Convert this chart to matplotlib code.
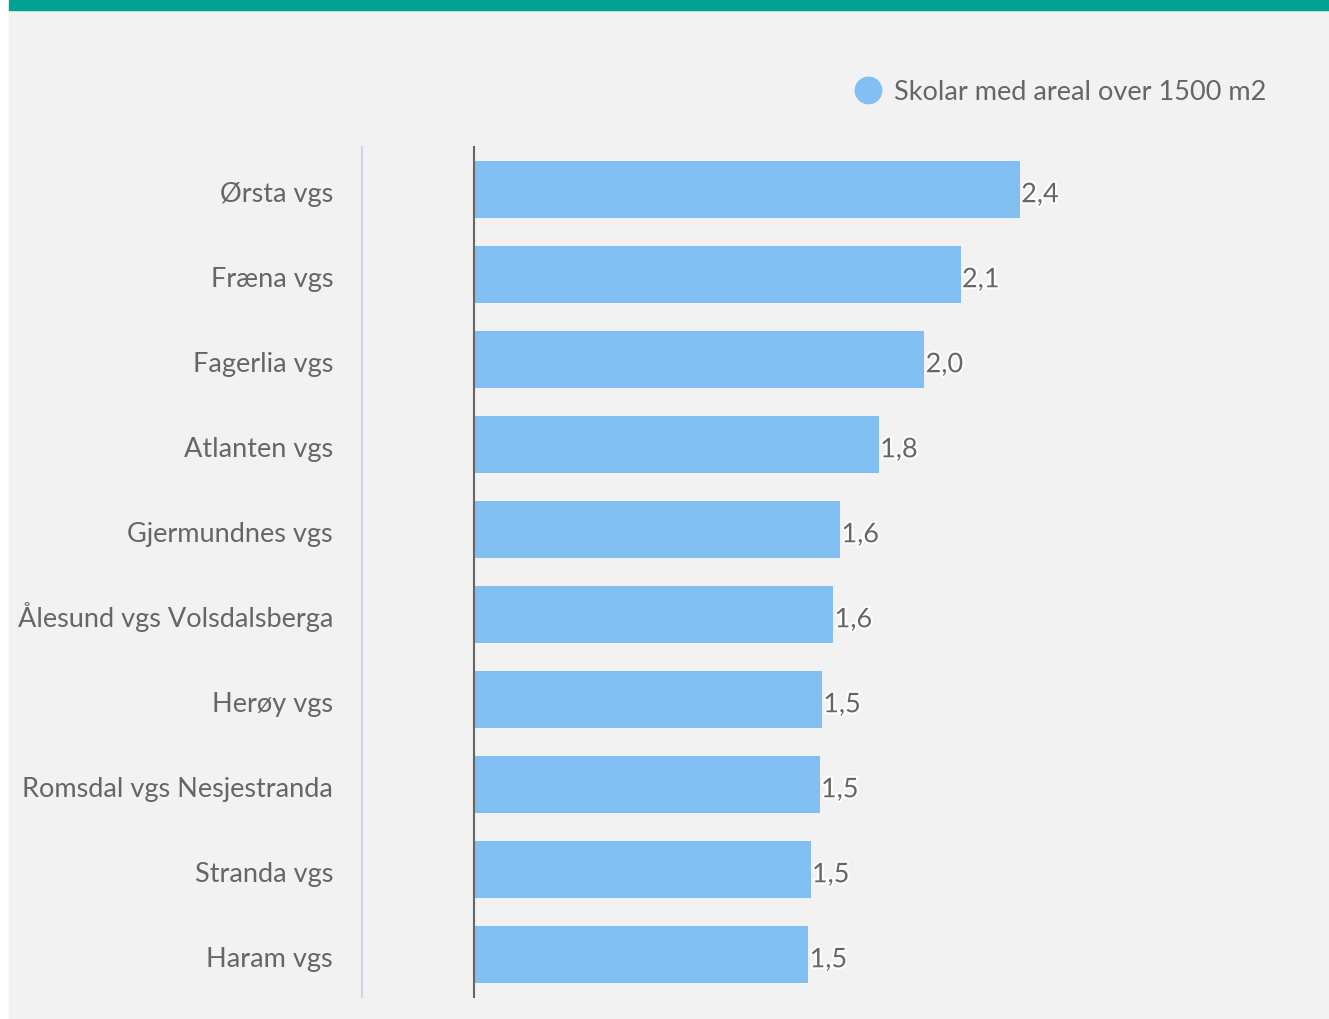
import numpy as np
import matplotlib.pyplot as plt
import matplotlib.patheffects as pe
from matplotlib.patches import Rectangle
from matplotlib.lines import Line2D

skular = ["Ørsta vgs", "Fræna vgs", "Fagerlia vgs", "Atlanten vgs", "Gjermundnes vgs",
          "Ålesund vgs Volsdalsberga", "Herøy vgs", "Romsdal vgs Nesjestranda",
          "Stranda vgs", "Haram vgs"]
verdiar = [2.40, 2.14, 1.98, 1.78, 1.61, 1.58, 1.53, 1.52, 1.48, 1.47]
serie = "Skolar med areal over 1500 m2"

plt.rcParams['font.family'] = ['Lato', 'DejaVu Sans']
W, H = 1329, 1019
fs = 19.5
fig = plt.figure(figsize=(W / 100, H / 100), dpi=100)
fig.patch.set_facecolor("white")

# bakgrunn og toppstripe
fig.patches.append(Rectangle((9 / W, 0), 1 - 9 / W, 1 - 1 / H, transform=fig.transFigure,
                             color="#f2f2f2", zorder=-10))
fig.patches.append(Rectangle((9 / W, 1 - 10 / H), 1 - 9 / W, 10 / H, transform=fig.transFigure,
                             color="#00a391", zorder=-9))

ax = fig.add_axes([474 / W, 1 - 997 / H, (1248 - 474) / W, 850 / H])
ax.set_facecolor("none")
y = np.arange(len(skular))
ax.barh(y, verdiar, height=0.67, color="#82bff3", zorder=2)
ax.set_xlim(0, 774 / 227.5)
ax.set_ylim(9.5, -0.5)
ax.set_yticks([])
ax.set_xticks([])
for s in ["top", "right", "bottom"]:
    ax.spines[s].set_visible(False)
ax.spines["left"].set_color("#666666")
ax.spines["left"].set_linewidth(1.5)

# kategorinamn, grunnlinja litt under midten av stolpen
for yi, namn in zip(y, skular):
    ax.text(-141 / 774, yi + 0.145, namn, transform=ax.get_yaxis_transform(),
            ha="right", va="baseline", fontsize=fs, color="#666666")

for yi, v in zip(y, verdiar):
    t = ax.text(v + 0.005, yi + 0.15, f"{v:.1f}".replace(".", ","), va="baseline", ha="left",
                fontsize=fs, color="#666666", zorder=3)
    t.set_path_effects([pe.withStroke(linewidth=3, foreground="white")])

# lys skiljelinje
fig.lines.append(Line2D([362 / W, 362 / W], [1 - 147 / H, 1 - 997 / H], transform=fig.transFigure,
                        color="#ccd6eb", linewidth=1.5))

# legend
fig.lines.append(Line2D([868 / W], [1 - 90 / H], transform=fig.transFigure, marker="o",
                        markersize=19, color="#82bff3", linestyle="none"))
fig.text(894 / W, 1 - 92 / H, serie, fontsize=fs, color="#666666", va="center", ha="left")

fig.savefig("out.png", dpi=100)
